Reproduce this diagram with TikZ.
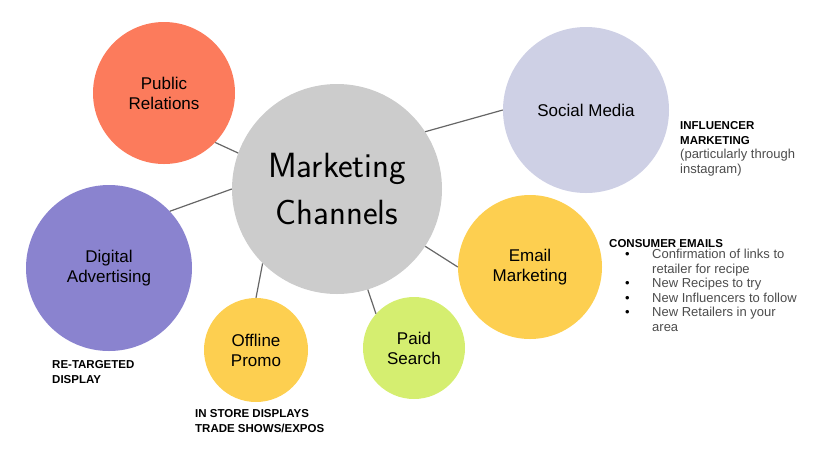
\documentclass[tikz,border=0pt]{standalone}
\usepackage{fontspec}
\setmainfont{Liberation Sans}
\definecolor{pubcoral}{RGB}{252,123,92}
\definecolor{coregrey}{RGB}{204,204,204}
\definecolor{socialblue}{RGB}{206,208,229}
\definecolor{digipurple}{RGB}{138,131,207}
\definecolor{mailyellow}{RGB}{253,207,80}
\definecolor{searchgreen}{RGB}{213,238,112}
\tikzset{
  bubble/.style={circle, inner sep=0pt, align=center, font=\fontsize{17}{20}\selectfont},
  link/.style={draw=black!60, line width=1.2pt},
  note/.style={align=left, inner sep=0pt, anchor=base west, font=\fontsize{11.5}{15}\selectfont\bfseries},
  notetext/.style={align=left, inner sep=0pt, anchor=base west, text=black!70, font=\fontsize{13}{14.5}\selectfont},
}

\begin{document}
\begin{tikzpicture}[x=1pt,y=-1pt]
\useasboundingbox (0,0) rectangle (834,467);
% bubbles
\node[bubble, fill=coregrey, minimum size=210pt, font=\sffamily\fontsize{35}{47}\selectfont] (mc) at (337,189) {Marketing\\Channels};
\node[bubble, fill=pubcoral, minimum size=142pt] (pr) at (164,93) {Public\\Relations};
\node[bubble, fill=socialblue, minimum size=166pt] (sm) at (586,110) {Social Media};
\node[bubble, fill=digipurple, minimum size=166pt] (da) at (109,268) {Digital\\Advertising};
\node[bubble, fill=mailyellow, minimum size=144pt] (em) at (530,267) {Email\\Marketing};
\node[bubble, fill=searchgreen, minimum size=102pt] (ps) at (414,348) {Paid\\Search};
\node[bubble, fill=mailyellow, minimum size=104pt] (op) at (256,350) {Offline\\Promo};

% links to the middle
\draw[link] (pr.-44) -- (mc.160);
\draw[link] (da.43) -- (mc.180);
\draw[link] (sm.180) -- (mc.33);
\draw[link] (em.180) -- (mc.-33);
\draw[link] (ps.138) -- (mc.-73);
\draw[link] (op.90) -- (mc.-135);

% side notes (base = last line)
\node[note] (smnote) at (680,144) {INFLUENCER\\MARKETING};
\node[notetext] (smtext) at (680,173) {(particularly through\\instagram)};
\node[note] (emnote) at (609,247) {CONSUMER EMAILS};
\node[notetext] (emtext) at (625,331) {\makebox[27pt][l]{\textcolor{black}{\textbullet}}Confirmation of links to\\
  \hspace*{27pt}retailer for recipe\\
  \makebox[27pt][l]{\textcolor{black}{\textbullet}}New Recipes to try\\
  \makebox[27pt][l]{\textcolor{black}{\textbullet}}New Influencers to follow\\
  \makebox[27pt][l]{\textcolor{black}{\textbullet}}New Retailers in your\\
  \hspace*{27pt}area};
\node[note] (danote) at (52,383) {RE-TARGETED\\DISPLAY};
\node[note] (opnote) at (195,432) {IN STORE DISPLAYS\\TRADE SHOWS/EXPOS};
\end{tikzpicture}
\end{document}
